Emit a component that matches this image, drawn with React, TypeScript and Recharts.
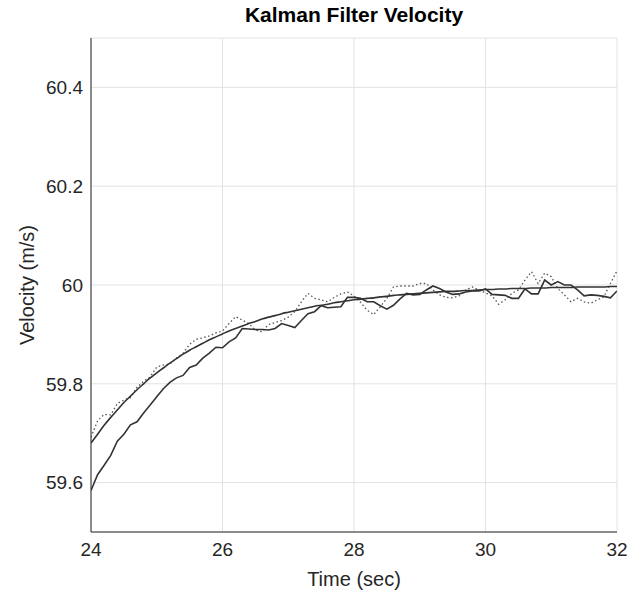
import React from 'react';
import {
  LineChart,
  Line,
  XAxis,
  YAxis,
  CartesianGrid,
} from 'recharts';

const time = [
  24.0, 24.1, 24.2, 24.3, 24.4, 24.5, 24.6, 24.7, 24.8, 24.9,
  25.0, 25.1, 25.2, 25.3, 25.4, 25.5, 25.6, 25.7, 25.8, 25.9,
  26.0, 26.1, 26.2, 26.3, 26.4, 26.5, 26.6, 26.7, 26.8, 26.9,
  27.0, 27.1, 27.2, 27.3, 27.4, 27.5, 27.6, 27.7, 27.8, 27.9,
  28.0, 28.1, 28.2, 28.3, 28.4, 28.5, 28.6, 28.7, 28.8, 28.9,
  29.0, 29.1, 29.2, 29.3, 29.4, 29.5, 29.6, 29.7, 29.8, 29.9,
  30.0, 30.1, 30.2, 30.3, 30.4, 30.5, 30.6, 30.7, 30.8, 30.9,
  31.0, 31.1, 31.2, 31.3, 31.4, 31.5, 31.6, 31.7, 31.8, 31.9,
  32.0,
];

// true velocity (smooth curve)
const trueVel = [
  59.680, 59.698, 59.716, 59.732, 59.747, 59.762, 59.775, 59.788, 59.800, 59.812,
  59.822, 59.832, 59.842, 59.851, 59.860, 59.868, 59.875, 59.882, 59.889, 59.895,
  59.901, 59.907, 59.912, 59.917, 59.922, 59.926, 59.931, 59.935, 59.938, 59.942,
  59.945, 59.948, 59.951, 59.954, 59.957, 59.959, 59.961, 59.964, 59.966, 59.968,
  59.970, 59.971, 59.973, 59.974, 59.976, 59.977, 59.979, 59.980, 59.981, 59.982,
  59.983, 59.984, 59.985, 59.986, 59.987, 59.987, 59.988, 59.989, 59.989, 59.990,
  59.991, 59.991, 59.992, 59.992, 59.993, 59.993, 59.993, 59.994, 59.994, 59.994,
  59.995, 59.995, 59.995, 59.995, 59.996, 59.996, 59.996, 59.996, 59.996, 59.997,
  59.997,
];

// measured velocity (dotted)
const measVel = [
  59.692, 59.725, 59.738, 59.737, 59.760, 59.767, 59.772, 59.793, 59.805, 59.814,
  59.834, 59.838, 59.840, 59.852, 59.862, 59.880, 59.890, 59.893, 59.897, 59.903,
  59.907, 59.922, 59.936, 59.929, 59.922, 59.909, 59.905, 59.920, 59.924, 59.928,
  59.935, 59.946, 59.966, 59.983, 59.973, 59.970, 59.966, 59.975, 59.982, 59.986,
  59.978, 59.965, 59.949, 59.940, 59.956, 59.973, 59.996, 59.998, 59.998, 59.998,
  60.003, 60.003, 59.990, 59.980, 59.975, 59.974, 59.978, 59.990, 59.996, 59.990,
  59.984, 59.978, 59.961, 59.970, 59.983, 59.990, 60.010, 60.027, 60.003, 60.024,
  60.017, 59.993, 59.980, 59.966, 59.973, 59.966, 59.963, 59.970, 59.976, 60.003,
  60.029,
];

// Kalman estimate (solid, jagged)
const estVel = [
  59.584, 59.616, 59.635, 59.655, 59.684, 59.698, 59.717, 59.723, 59.741, 59.757,
  59.774, 59.790, 59.803, 59.812, 59.817, 59.833, 59.838, 59.852, 59.862, 59.874,
  59.873, 59.885, 59.893, 59.912, 59.911, 59.910, 59.910, 59.909, 59.912, 59.922,
  59.918, 59.914, 59.928, 59.942, 59.946, 59.958, 59.954, 59.955, 59.956, 59.975,
  59.975, 59.973, 59.966, 59.966, 59.958, 59.951, 59.959, 59.972, 59.983, 59.980,
  59.981, 59.990, 59.998, 59.993, 59.986, 59.981, 59.982, 59.986, 59.988, 59.988,
  59.992, 59.981, 59.980, 59.979, 59.973, 59.973, 59.992, 59.982, 59.982, 60.010,
  60.000, 60.007, 60.000, 60.000, 59.990, 59.978, 59.980, 59.979, 59.977, 59.974,
  59.988,
];

const xTicks = [24, 26, 28, 30, 32];
const yTicks = [59.6, 59.8, 60, 60.2, 60.4];

const data = time.map((t, i) => ({
  t,
  truth: trueVel[i],
  meas: measVel[i],
  est: estVel[i],
}));

const font = '"Liberation Sans", Arial, Helvetica, sans-serif';
const ink = '#262626';

export default function App() {
  return (
    <div style={{ position: 'relative', width: 629, height: 596, fontFamily: font }}>
      <style>{`body { margin: 0; }`}</style>
      <div
        style={{
          position: 'absolute',
          top: 3,
          left: 91,
          width: 526,
          textAlign: 'center',
          fontSize: 21,
          fontWeight: 'bold',
          color: '#000',
        }}
      >
        Kalman Filter Velocity
      </div>
      <LineChart
        width={629}
        height={596}
        data={data}
        margin={{ top: 38, right: 12, left: 0, bottom: 0 }}
      >
        <CartesianGrid stroke="#e2e2e2" strokeWidth={1} />
        <XAxis
          dataKey="t"
          type="number"
          domain={[24, 32]}
          ticks={xTicks}
          allowDataOverflow
          height={64}
          axisLine={{ stroke: ink }}
          tickLine={false}
          tickSize={0}
          tickMargin={11}
          tick={{ fontSize: 19, fill: ink, fontFamily: font }}
          label={{
            value: 'Time (sec)',
            position: 'insideBottom',
            offset: 10,
            style: { fontSize: 20, fill: ink, fontFamily: font },
          }}
        />
        <YAxis
          type="number"
          domain={[59.5, 60.5]}
          ticks={yTicks}
          allowDataOverflow
          width={91}
          axisLine={{ stroke: ink }}
          tickLine={false}
          tickSize={0}
          tickMargin={8}
          tick={{ fontSize: 19, fill: ink, fontFamily: font }}
          label={{
            value: 'Velocity (m/s)',
            angle: -90,
            position: 'insideLeft',
            offset: 27,
            style: { textAnchor: 'middle', fontSize: 20, fill: ink, fontFamily: font },
          }}
        />
        <Line
          type="linear"
          dataKey="meas"
          stroke="#555"
          strokeWidth={1.3}
          strokeDasharray="1.5 2.5"
          dot={false}
          isAnimationActive={false}
        />
        <Line
          type="linear"
          dataKey="est"
          stroke="#333"
          strokeWidth={1.6}
          dot={false}
          isAnimationActive={false}
        />
        <Line
          type="monotone"
          dataKey="truth"
          stroke="#333"
          strokeWidth={1.6}
          dot={false}
          isAnimationActive={false}
        />
      </LineChart>
    </div>
  );
}
